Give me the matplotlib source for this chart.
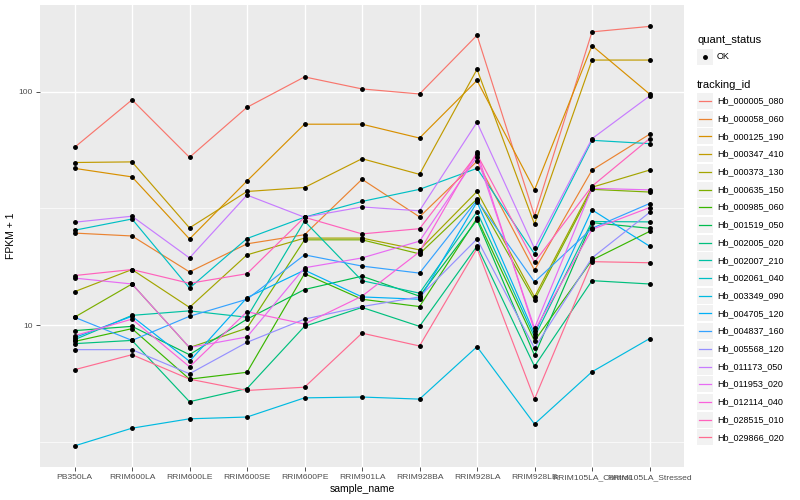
import numpy as np
import matplotlib
matplotlib.use("Agg")
import matplotlib.pyplot as plt
from matplotlib.lines import Line2D
from matplotlib.patches import Rectangle
from matplotlib.ticker import NullLocator

plt.rcParams["font.family"] = ["Liberation Sans", "DejaVu Sans"]

# sample order on the x axis
samples = ["PB350LA", "RRIM600LA", "RRIM600LE", "RRIM600SE", "RRIM600PE",
           "RRIM901LA", "RRIM928BA", "RRIM928LA", "RRIM928LB",
           "RRIM105LA_Control", "RRIM105LA_Stressed"]

tracking_ids = ["Hb_000005_080", "Hb_000058_060", "Hb_000125_190", "Hb_000347_410",
                "Hb_000373_130", "Hb_000635_150", "Hb_000985_060", "Hb_001519_050",
                "Hb_002005_020", "Hb_002007_210", "Hb_002061_040", "Hb_003349_090",
                "Hb_004705_120", "Hb_004837_160", "Hb_005568_120", "Hb_011173_050",
                "Hb_011953_020", "Hb_012114_040", "Hb_028515_010", "Hb_029866_020"]

# ggplot default hue palette, 20 levels
colors = ["#F8766D", "#EA8331", "#D89000", "#C09B00", "#A3A500", "#7CAE00",
          "#39B600", "#00BB4E", "#00BF7D", "#00C1A3", "#00BFC4", "#00BAE0",
          "#00B0F6", "#35A2FF", "#9590FF", "#C77CFF", "#E76BF3", "#FA62DB",
          "#FF62BC", "#FF6C91"]

# FPKM + 1 per gene, in sample order
hb_000005_080 = [57.8, 92.5, 52.4, 85.9, 116, 103, 98, 175, 29.4, 181, 191]
hb_000058_060 = [24.8, 24.1, 16.9, 22.3, 24.4, 42.2, 29.1, 50.4, 17.2, 46.2, 65.8]
hb_000125_190 = [47.0, 43.2, 23.4, 41.5, 72.7, 72.7, 63.4, 112, 38.0, 158, 98]
hb_000347_410 = [49.8, 50.1, 26.1, 37.4, 38.9, 51.7, 44.3, 125, 27.1, 137, 137]
hb_000373_130 = [13.9, 17.3, 11.9, 20.0, 23.6, 23.6, 21.0, 37.4, 13.2, 39.0, 46.2]
hb_000635_150 = [10.8, 15.0, 8.0, 9.7, 23.2, 23.2, 20.2, 34.7, 12.8, 38.2, 37.2]
hb_000985_060 = [8.5, 9.65, 5.86, 6.27, 16.6, 12.9, 12.0, 28.7, 8.55, 19.0, 25.2]
hb_001519_050 = [9.46, 9.87, 7.46, 10.6, 14.2, 16.2, 13.3, 28.2, 7.41, 27.5, 26.0]
hb_002005_020 = [8.32, 8.59, 4.69, 5.34, 9.87, 11.9, 9.87, 21.8, 6.65, 15.5, 15.0]
hb_002007_210 = [8.65, 11.0, 11.5, 10.8, 27.9, 15.5, 13.7, 30.6, 8.89, 27.8, 27.7]
hb_002061_040 = [25.5, 28.5, 14.4, 23.5, 29.0, 33.9, 38.2, 47.0, 20.2, 62, 60]
hb_003349_090 = [3.03, 3.61, 3.96, 4.03, 4.87, 4.91, 4.81, 8.07, 3.76, 6.30, 8.74]
hb_004705_120 = [8.83, 10.9, 6.99, 13.1, 17.2, 13.2, 12.9, 33.7, 9.18, 31.2, 21.8]
hb_004837_160 = [10.8, 8.59, 10.9, 12.9, 20.0, 17.9, 16.7, 34.3, 15.3, 26.0, 33.2]
hb_005568_120 = [7.84, 7.84, 6.18, 8.43, 10.6, 12.0, 13.2, 23.4, 7.96, 19.4, 30.4]
hb_011173_050 = [27.6, 29.3, 19.4, 36.1, 29.0, 32.1, 30.9, 74.1, 21.3, 63, 96]
hb_011953_020 = [15.9, 15.0, 8.01, 8.89, 17.6, 19.4, 22.9, 52.8, 9.71, 38.6, 38.0]
hb_012114_040 = [9.0, 10.6, 6.62, 11.4, 10.1, 13.3, 20.6, 55.2, 9.46, 25.7, 31.9]
hb_028515_010 = [16.3, 17.3, 15.1, 16.6, 29.0, 24.6, 25.9, 54.0, 18.6, 39.4, 63]
hb_029866_020 = [6.43, 7.46, 5.86, 5.24, 5.41, 9.23, 8.13, 21.3, 4.81, 18.7, 18.5]

series = [hb_000005_080, hb_000058_060, hb_000125_190, hb_000347_410,
          hb_000373_130, hb_000635_150, hb_000985_060, hb_001519_050,
          hb_002005_020, hb_002007_210, hb_002061_040, hb_003349_090,
          hb_004705_120, hb_004837_160, hb_005568_120, hb_011173_050,
          hb_011953_020, hb_012114_040, hb_028515_010, hb_029866_020]

W, H = 800, 500
fig = plt.figure(figsize=(8, 5), dpi=100)
fig.patch.set_facecolor("white")

# panel area in pixels
px0, px1, py0, py1 = 40, 684, 5, 467
ax = fig.add_axes([px0 / W, 1 - py1 / H, (px1 - px0) / W, (py1 - py0) / H])
ax.set_facecolor("#EBEBEB")

x = np.arange(len(samples))

ax.set_yscale("log")
ax.set_ylim(2.46, 236)
ax.set_xlim(-0.6, len(samples) - 0.4)

# grid, ggplot style
for yv in [10 ** 0.5, 10 ** 1.5]:
    ax.axhline(yv, color="white", lw=0.5, zorder=0)
for yv in [10, 100]:
    ax.axhline(yv, color="white", lw=1.0, zorder=0)
for xv in x:
    ax.axvline(xv, color="white", lw=1.0, zorder=0)

for vals, col in zip(series, colors):
    ax.plot(x, vals, color=col, lw=0.85, zorder=2)
for vals in series:
    ax.plot(x, vals, ls="none", marker="o", ms=2.5, color="black", zorder=3)

ax.set_yticks([10, 100])
ax.set_yticklabels(["10", "100"])
ax.yaxis.set_minor_locator(NullLocator())
ax.set_xticks(x)
ax.set_xticklabels(samples)
ax.tick_params(axis="both", length=3, width=0.6, color="#333333",
               labelcolor="#4D4D4D", labelsize=6.1, pad=2)
for s in ax.spines.values():
    s.set_visible(False)

ax.set_xlabel("sample_name", fontsize=7.5, labelpad=2)
ax.set_ylabel("FPKM + 1", fontsize=7.5, labelpad=2)

# legends drawn by hand to get ggplot look
def fx(p):
    return p / W

def fy(p):
    return 1 - p / H

lx = 697
key = 16
fig.text(fx(lx), fy(40), "quant_status", fontsize=8, va="center", ha="left")
fig.add_artist(Rectangle((fx(lx), fy(56.7 + key / 2)), key / W, key / H,
                         transform=fig.transFigure, facecolor="#F2F2F2",
                         edgecolor="none"))
fig.add_artist(Line2D([fx(lx + key / 2)], [fy(56.7)], marker="o", ms=2.5,
                      color="black", transform=fig.transFigure))
fig.text(fx(lx + key + 4), fy(56.7), "OK", fontsize=6.5, va="center", ha="left")

fig.text(fx(lx), fy(85), "tracking_id", fontsize=8, va="center", ha="left")
for i, (name, col) in enumerate(zip(tracking_ids, colors)):
    cy = 101 + i * 17.7
    fig.add_artist(Rectangle((fx(lx), fy(cy + key / 2)), key / W, key / H,
                             transform=fig.transFigure, facecolor="#F2F2F2",
                             edgecolor="none"))
    fig.add_artist(Line2D([fx(lx + 2), fx(lx + key - 2)], [fy(cy), fy(cy)],
                          color=col, lw=0.9, transform=fig.transFigure))
    fig.text(fx(lx + key + 4), fy(cy), name, fontsize=6.5, va="center", ha="left")

fig.savefig("out.png", dpi=100)
